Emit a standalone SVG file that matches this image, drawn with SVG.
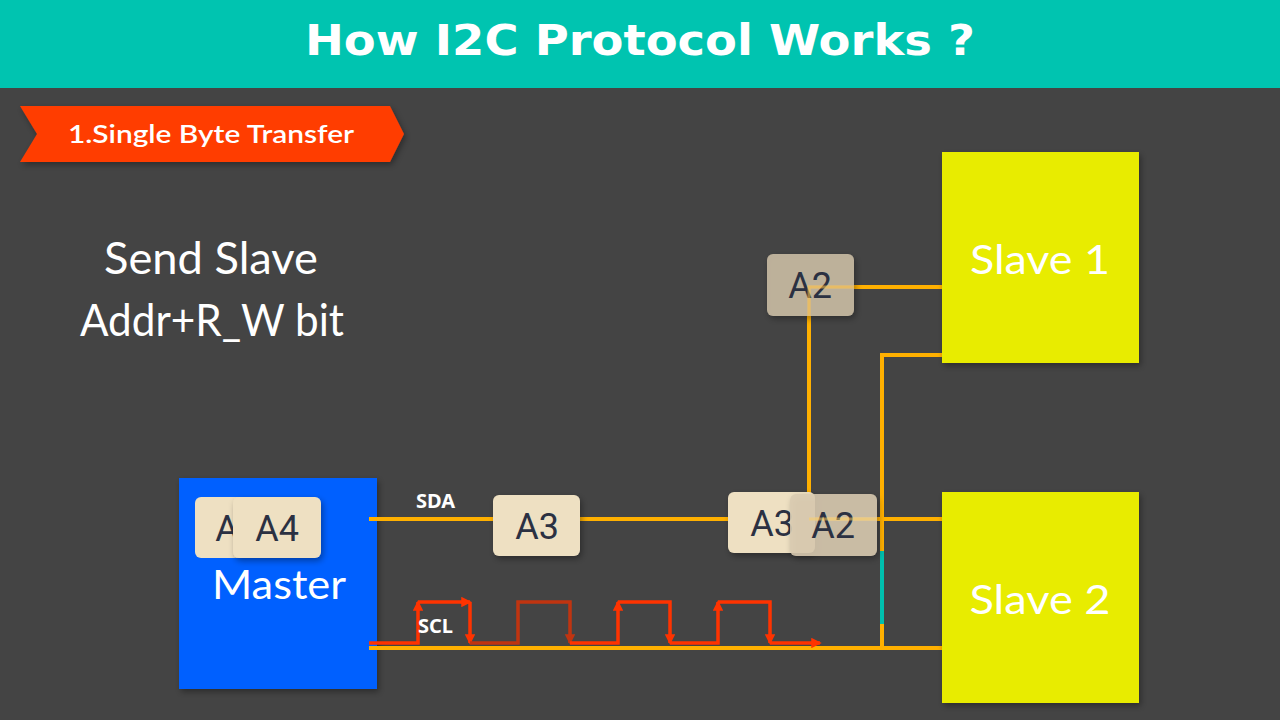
<svg xmlns="http://www.w3.org/2000/svg" width="1280" height="720" viewBox="0 0 1280 720">
<defs>
<filter id="sh" x="-20%" y="-20%" width="140%" height="140%"><feDropShadow dx="2" dy="3" stdDeviation="3" flood-color="#000" flood-opacity="0.35"/></filter>
<marker id="ah" viewBox="0 0 6 6" refX="5" refY="3" markerWidth="3" markerHeight="3" orient="auto"><path d="M0,0 L6,3 L0,6 z" fill="#FF3300"/></marker>
<marker id="ah2" viewBox="0 0 6 6" refX="5" refY="3" markerWidth="3" markerHeight="3" orient="auto"><path d="M0,0 L6,3 L0,6 z" fill="#C03410"/></marker>
</defs>
<style>
.wire{fill:none;stroke:#FFB000;stroke-width:4}
.clk{fill:none;stroke:#FF3300;stroke-width:3.5}
.chip{fill:#EEE0C2}
.chipg{fill:#D9CBB0;fill-opacity:0.88}
.ct{font-family:Roboto,"Liberation Sans",sans-serif;font-size:36px;fill:#2B3142;text-anchor:middle}
.lbl{font-family:"Noto Sans","Open Sans",sans-serif;font-weight:bold;font-size:20px;fill:#fff}
.big{font-family:Lato,"Noto Sans",sans-serif;fill:#fff;text-anchor:middle}
</style>
<rect width="1280" height="720" fill="#444444"/>
<rect width="1280" height="88" fill="#00C4B0"/>
<text x="640" y="55" font-family="'DejaVu Sans','Open Sans',sans-serif" font-weight="900" font-size="42" fill="#fff" text-anchor="middle" textLength="670" lengthAdjust="spacingAndGlyphs">How I2C Protocol Works ?</text>

<g id="banner">
<polygon points="20,106 390,106 404,134 390,162 20,162 37,134" fill="#FF3D00" filter="url(#sh)"/>
<text x="68" y="143" font-family="Lato,'Noto Sans',sans-serif" font-weight="600" font-size="25" fill="#fff" textLength="286" lengthAdjust="spacingAndGlyphs">1.Single Byte Transfer</text>
</g>

<g id="caption">
<text class="big" x="211" y="274" font-size="44" textLength="214" lengthAdjust="spacingAndGlyphs">Send Slave</text>
<text class="big" x="212" y="336" font-size="44" textLength="264" lengthAdjust="spacingAndGlyphs">Addr+R_W bit</text>
</g>

<g id="master">
<rect x="179" y="478" width="198" height="211" fill="#0060FF" filter="url(#sh)"/>
<text class="big" x="279" y="599" font-size="40" textLength="134" lengthAdjust="spacingAndGlyphs">Master</text>
</g>

<g id="connectors">
<polyline class="wire" points="369,519 945,519"/>
<polyline class="wire" points="369,648 945,648"/>
<polyline class="wire" points="809,519 809,287 945,287"/>
<polyline class="wire" points="882,648 882,355 945,355"/>
<line x1="882" y1="551" x2="882" y2="624" stroke="#00BFAE" stroke-width="4"/>
<polyline class="clk" points="369,643 418,643 418,602" marker-end="url(#ah)"/>
<polyline class="clk" points="418,602 470,602" marker-end="url(#ah)"/>
<polyline class="clk" points="470,602 470,643" marker-end="url(#ah)"/>
<polyline fill="none" stroke="#C03410" stroke-width="3.5" points="470,643 518,643 518,602 570,602 570,643" marker-end="url(#ah2)"/>
<polyline class="clk" points="570,643 618,643 618,602" marker-end="url(#ah)"/>
<polyline class="clk" points="618,602 670,602 670,643" marker-end="url(#ah)"/>
<polyline class="clk" points="670,643 718,643 718,602" marker-end="url(#ah)"/>
<polyline class="clk" points="718,602 770,602 770,643" marker-end="url(#ah)"/>
<polyline class="clk" points="770,643 820,643" marker-end="url(#ah)"/>
<text class="lbl" x="416" y="508">SDA</text>
<text class="lbl" x="418" y="633">SCL</text>
</g>

<g id="chip-a4-back">
<rect class="chip" x="195" y="497" width="88" height="61" rx="6"/>
<text class="ct" x="227" y="541">A</text>
</g>
<g id="chip-a4">
<rect class="chip" x="233" y="497" width="88" height="61" rx="6" filter="url(#sh)"/>
<text class="ct" x="277" y="541">A4</text>
</g>

<g id="chip-a3">
<rect class="chip" x="493" y="495" width="87" height="61" rx="6" filter="url(#sh)"/>
<text class="ct" x="537" y="539">A3</text>
</g>
<g id="chip-a3b">
<rect class="chip" x="728" y="492" width="87" height="61" rx="6" filter="url(#sh)"/>
<text class="ct" x="772" y="536">A3</text>
</g>
<g id="chip-a2b">
<rect class="chipg" x="790" y="494" width="87" height="62" rx="6" filter="url(#sh)"/>
<text class="ct" x="833" y="538">A2</text>
<line x1="809" y1="519" x2="877" y2="519" stroke="#FFD060" stroke-width="3" opacity="0.5"/>
</g>
<g id="chip-a2">
<rect x="767" y="254" width="87" height="62" rx="6" fill="#C9BBA3" fill-opacity="0.9" filter="url(#sh)"/>
<text class="ct" x="810" y="298">A2</text>
<polyline points="809,316 809,287 854,287" fill="none" stroke="#FFC040" stroke-width="3" opacity="0.55"/>
</g>

<g id="slave1">
<rect x="942" y="152" width="197" height="211" fill="#E8EC00" filter="url(#sh)"/>
<text class="big" x="1040" y="274" font-size="40" textLength="140" lengthAdjust="spacingAndGlyphs">Slave 1</text>
</g>
<g id="slave2">
<rect x="942" y="492" width="197" height="211" fill="#E8EC00" filter="url(#sh)"/>
<text class="big" x="1040" y="614" font-size="40" textLength="141" lengthAdjust="spacingAndGlyphs">Slave 2</text>
</g>
</svg>
